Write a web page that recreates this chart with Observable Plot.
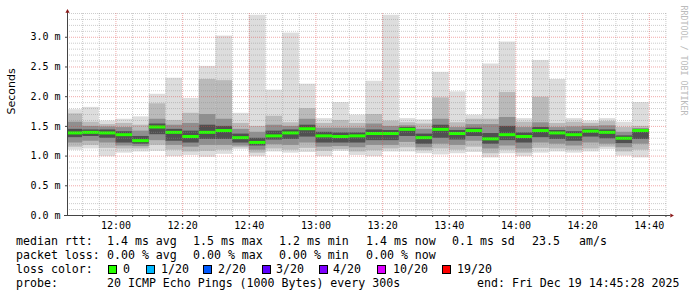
<!DOCTYPE html>
<html><head><meta charset="utf-8">
<script src="https://cdn.jsdelivr.net/npm/d3@7"></script>
<script src="https://cdn.jsdelivr.net/npm/@observablehq/plot@0.6"></script>
<style>
body{margin:0;background:#fff;}
#wrap{position:relative;width:697px;height:297px;overflow:hidden;background:#fff;}
#chart svg{display:block}
.lg{position:absolute;font-family:"DejaVu Sans Mono",monospace;font-size:11.6px;line-height:14px;color:#000;white-space:pre;}
.sw{position:absolute;width:7px;height:7px;border:1px solid #000;}
</style></head><body><div id="wrap"><div id="chart"></div></div>
<script>
// bar end times (each bar covers the 5 minutes before)
const times = ["11:50","11:55","12:00","12:05","12:10","12:15","12:20","12:25","12:30","12:35","12:40","12:45","12:50","12:55","13:00","13:05","13:10","13:15","13:20","13:25","13:30","13:35","13:40","13:45","13:50","13:55","14:00","14:05","14:10","14:15","14:20","14:25","14:30","14:35","14:40"];
// RTT values in ms (sorted ping quantile bands)
const rttMax = [1.78,1.82,1.59,1.62,1.66,2.04,2.31,1.97,2.51,3.02,1.72,3.37,2.11,3.07,2.21,1.63,1.90,1.69,2.26,3.37,1.63,1.61,2.41,2.08,1.69,2.55,2.92,1.63,2.61,2.29,1.63,1.59,1.63,1.57,1.90];
const rttHi2 = [1.71,1.57,1.53,1.55,1.52,1.88,1.60,1.72,2.29,2.27,1.55,1.50,1.67,1.56,1.80,1.55,1.60,1.55,1.70,1.59,1.56,1.54,1.98,1.56,1.62,1.62,2.07,1.57,1.99,1.55,1.57,1.55,1.58,1.48,1.50];
const rttHi3 = [1.57,1.50,1.49,1.48,1.42,1.62,1.52,1.55,1.70,1.62,1.45,1.40,1.52,1.50,1.62,1.47,1.47,1.47,1.54,1.50,1.51,1.45,1.62,1.48,1.53,1.53,1.65,1.48,1.56,1.48,1.49,1.50,1.51,1.40,1.46];
const rttHi4 = [1.45,1.44,1.44,1.41,1.33,1.54,1.45,1.42,1.52,1.50,1.37,1.30,1.42,1.44,1.52,1.40,1.39,1.39,1.44,1.43,1.48,1.37,1.52,1.43,1.47,1.38,1.50,1.39,1.48,1.43,1.41,1.45,1.44,1.34,1.45];
const rttMed = [1.39,1.40,1.39,1.36,1.26,1.49,1.40,1.33,1.40,1.43,1.31,1.23,1.34,1.39,1.46,1.34,1.33,1.34,1.38,1.38,1.45,1.31,1.45,1.38,1.43,1.29,1.36,1.33,1.43,1.39,1.36,1.42,1.40,1.30,1.43];
const rttLo4 = [1.31,1.33,1.30,1.22,1.20,1.36,1.25,1.22,1.28,1.28,1.22,1.17,1.27,1.28,1.32,1.22,1.22,1.22,1.26,1.26,1.33,1.20,1.30,1.27,1.33,1.20,1.26,1.22,1.31,1.28,1.25,1.32,1.29,1.21,1.28];
const rttLo3 = [1.22,1.25,1.22,1.17,1.16,1.26,1.18,1.15,1.18,1.18,1.17,1.10,1.19,1.18,1.22,1.15,1.16,1.14,1.18,1.18,1.23,1.14,1.20,1.18,1.25,1.12,1.17,1.12,1.22,1.20,1.17,1.22,1.20,1.14,1.20];
const rttLo2 = [1.15,1.18,1.13,1.12,1.12,1.18,1.10,1.07,1.08,1.10,1.14,1.05,1.12,1.10,1.13,1.08,1.11,1.07,1.09,1.12,1.14,1.09,1.12,1.10,1.15,1.04,1.10,1.05,1.13,1.12,1.10,1.12,1.15,1.07,1.10];
const rttMin = [1.10,1.12,0.99,1.05,1.07,1.08,0.99,1.01,0.98,1.03,1.11,0.99,1.07,1.05,1.06,0.99,1.08,1.01,0.99,1.07,1.07,1.04,1.02,1.04,1.06,0.97,1.04,0.99,1.05,1.07,1.05,1.07,1.11,1.00,0.97];
const yMajorTicks = [0, 0.5, 1.0, 1.5, 2.0, 2.5, 3.0];
const yMinorTicks = [0.1,0.2,0.3,0.4,0.6,0.7,0.8,0.9,1.1,1.2,1.3,1.4,1.6,1.7,1.8,1.9,2.1,2.2,2.3,2.4,2.6,2.7,2.8,2.9,3.1,3.2,3.3,3.4];
// legend texts
const line1 = [[16,"median rtt:"],[107,"1.4 ms avg"],[193,"1.5 ms max"],[279,"1.2 ms min"],[366,"1.4 ms now"],[452,"0.1 ms sd"],[532,"23.5"],[579,"am/s"]];
const line2 = [[16,"packet loss:"],[107,"0.00 % avg"],[193,"0.00 % max"],[279,"0.00 % min"],[366,"0.00 % now"]];
const lossLabels = ["0","1/20","2/20","3/20","4/20","10/20","19/20"];
const lossColors = ["#26ff00","#00b8ff","#0059ff","#5e00ff","#7e00ff","#dd00ff","#ff0000"];
const line4 = [[16,"probe:"],[107,"20 ICMP Echo Pings (1000 Bytes) every 300s"],[477,"end: Fri Dec 19 14:45:28 2025"]];

const start = new Date(Date.UTC(2025,11,19,11,45,28));
const end = new Date(Date.UTC(2025,11,19,14,45,28));
const parse = s => { const [h,m] = s.split(":").map(Number); return new Date(Date.UTC(2025,11,19,h,m,0)); };
const rows = times.map((t,i) => { const t1 = parse(t); return {
  t0: new Date(+t1 - 300000), t1,
  max: rttMax[i], hi2: rttHi2[i], hi3: rttHi3[i], hi4: rttHi4[i], med: rttMed[i],
  lo4: rttLo4[i], lo3: rttLo3[i], lo2: rttLo2[i], min: rttMin[i]}; });
const bands = [["min","max","#dddddd"],["lo2","hi2","#bababa"],["lo3","hi3","#8f8f8f"],["lo4","hi4","#505050"]];
const xMinor = d3.utcMinute.every(5).range(start, end);
const xMajor = d3.utcMinute.every(20).range(start, end);
const font = "'DejaVu Sans Mono', monospace";

const marks = [];
for (const [lo,hi,fill] of bands) marks.push(Plot.rect(rows, {x1:"t0", x2:"t1", y1:lo, y2:hi, fill, clip:true}));
marks.push(Plot.ruleY(rows, {x1:"t0", x2:"t1", y:"med", stroke:"#26ff00", strokeWidth:3, clip:true}));
marks.push(
  Plot.gridY({ticks: yMinorTicks, stroke:"#909090", strokeOpacity:0.45, strokeDasharray:"1,1"}),
  Plot.gridX({ticks: xMinor.filter(d => d.getUTCMinutes() % 20), stroke:"#909090", strokeOpacity:0.45, strokeDasharray:"1,1"}),
  Plot.gridY({ticks: yMajorTicks.slice(1), stroke:"#e04040", strokeOpacity:0.45, strokeDasharray:"1,1"}),
  Plot.gridX({ticks: xMajor, stroke:"#e04040", strokeOpacity:0.45, strokeDasharray:"1,1"}),
  Plot.axisY({ticks: yMajorTicks, tickFormat: d => d.toFixed(1) + " m", tickSize: 2, tickPadding: 5, label: null, fontFamily: font, fontSize: 10, stroke:"#444", fill:"#000"}),
  Plot.axisX({ticks: xMinor, tickSize: 2, tickFormat: () => "", label: null, stroke:"#444"}),
  Plot.axisX({ticks: xMajor, tickSize: 0, tickPadding: 6, tickFormat: d3.utcFormat("%H:%M"), label: null, fontFamily: font, fontSize: 10, fill:"#000"}),
  Plot.ruleY([0], {stroke:"#444", insetLeft:-3, insetRight:-3}),
  Plot.ruleX([start], {stroke:"#444", insetTop:-3}),
  Plot.dot([0], {frameAnchor:"top-left", dy:-2, symbol:"triangle2", r:2, fill:"#8b1a1a", stroke:"none"}),
  Plot.dot([0], {frameAnchor:"bottom-right", dx:4, symbol:"triangle2", rotate:90, r:2, fill:"#8b1a1a", stroke:"none"}),
  Plot.text(["Seconds"], {text: d => d, frameAnchor:"left", dx:-56, rotate:-90, fontSize:11, fontFamily:"'DejaVu Sans', sans-serif", fill:"#000"}),
  Plot.text(["RRDTOOL / TOBI OETIKER"], {text: d => d, frameAnchor:"top-right", dx:19, dy:-8, rotate:90, textAnchor:"start", fontSize:8.3, fontFamily: font, fill:"#bbbbbb"})
);

const chart = Plot.plot({
  width: 697, height: 232,
  marginLeft: 67, marginRight: 30, marginTop: 13, marginBottom: 17,
  x: {type:"utc", domain:[start, end]},
  y: {domain:[0, 3.4]},
  style: {fontFamily: font, fontSize: "10px", background: "#fff", overflow: "visible"},
  marks
});
document.getElementById("chart").appendChild(chart);

const wrap = document.getElementById("wrap");
function addText(x, top, s) {
  const el = document.createElement("div");
  el.className = "lg"; el.style.left = x + "px"; el.style.top = top + "px"; el.textContent = s;
  wrap.appendChild(el);
}
line1.forEach(([x,s]) => addText(x, 234, s));
line2.forEach(([x,s]) => addText(x, 248, s));
addText(16, 262, "loss color:");
const swX = [108,146,203,262,319,377,442];
const lbX = [123,161,218,276,333,393,457];
lossLabels.forEach((s,i) => {
  const sw = document.createElement("div");
  sw.className = "sw"; sw.style.left = swX[i] + "px"; sw.style.top = "265px"; sw.style.background = lossColors[i];
  wrap.appendChild(sw);
  addText(lbX[i], 262, s);
});
line4.forEach(([x,s]) => addText(x, 276, s));
</script></body></html>
